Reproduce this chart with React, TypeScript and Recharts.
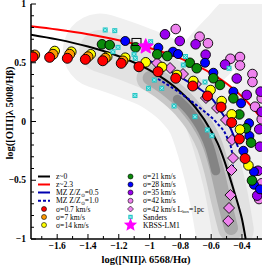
import React from "react";
import { ComposedChart, Line, Scatter, XAxis, YAxis } from "recharts";

type P = { x: number; y: number };
const toXY = (a: number[][]): P[] => a.map(([x, y]) => ({ x, y }));

// model curves
const curveZ0 = toXY([[-1.77, 0.739], [-1.6, 0.699], [-1.4, 0.638], [-1.2, 0.555], [-1.0, 0.437], [-0.9, 0.356], [-0.8, 0.253], [-0.7, 0.116], [-0.6, -0.08], [-0.55, -0.21], [-0.5, -0.39], [-0.45, -0.6], [-0.42, -0.73], [-0.4, -0.83], [-0.376, -1.0]]);
const curveZ23 = toXY([[-1.77, 0.811], [-1.6, 0.783], [-1.4, 0.743], [-1.2, 0.692], [-1.0, 0.626], [-0.8, 0.537], [-0.6, 0.41], [-0.5, 0.323], [-0.4, 0.212], [-0.3, 0.067], [-0.27, 0.013]]);
const mzHalf = toXY([[-1.03, 0.53], [-0.9, 0.455], [-0.802, 0.379], [-0.69, 0.29], [-0.588, 0.183], [-0.543, 0.098], [-0.48, -0.04], [-0.426, -0.217]]);
const mzSolar = toXY([[-0.945, 0.362], [-0.802, 0.243], [-0.673, 0.115], [-0.569, -0.004], [-0.498, -0.132], [-0.465, -0.26], [-0.458, -0.404]]);

// SDSS cloud (ridges of the gray density)
const cloudWide = toXY([[-1.32, 0.6], [-1.1, 0.5], [-0.9, 0.38], [-0.75, 0.22], [-0.64, 0.02], [-0.56, -0.3], [-0.5, -0.62], [-0.46, -0.92]]);
const cloudAgn = toXY([[-0.62, 0.55], [-0.5, 0.72], [-0.38, 0.86], [-0.3, 0.82]]);
const cloudRight = toXY([[-0.34, 0.88], [-0.31, 0.5], [-0.3, 0.0], [-0.31, -0.5], [-0.33, -0.95]]);
const cloudRidge = toXY([[-1.0, 0.37], [-0.9, 0.285], [-0.77, 0.132], [-0.673, -0.038], [-0.608, -0.209], [-0.562, -0.413], [-0.517, -0.668], [-0.471, -0.906]]);
const cloudCore = toXY([[-0.82, 0.19], [-0.73, 0.07], [-0.66, -0.07], [-0.61, -0.22], [-0.57, -0.42]]);

// photoionisation models, by velocity dispersion
const sig07 = toXY([[-1.757, 0.549], [-1.649, 0.546], [-1.534, 0.538], [-1.417, 0.529], [-1.304, 0.517], [-1.184, 0.495], [-1.069, 0.466], [-0.945, 0.424], [-0.83, 0.368], [-0.72, 0.302], [-0.624, 0.217], [-0.536, 0.123], [-0.467, -0.009], [-0.417, -0.149], [-0.38, -0.315]]);
const sig7 = toXY([[-1.746, 0.566], [-1.627, 0.572], [-1.519, 0.572], [-1.4, 0.551], [-1.288, 0.538], [-1.173, 0.515]]);
const sig14 = toXY([[-1.616, 0.6], [-1.508, 0.594], [-1.382, 0.572], [-1.275, 0.551], [-1.158, 0.543], [-1.025, 0.504], [-0.919, 0.464], [-0.822, 0.396], [-0.716, 0.345], [-0.604, 0.268], [-0.532, 0.174], [-0.467, 0.061], [-0.413, -0.068], [-0.358, -0.374]]);
const sig21 = toXY([[-1.309, 0.657], [-1.259, 0.651], [-1.091, 0.631], [-0.95, 0.572], [-0.885, 0.557], [-0.739, 0.5], [-0.694, 0.453], [-0.586, 0.368], [-0.543, 0.311], [-0.456, 0.197], [-0.417, 0.06], [-0.374, -0.058], [-0.341, -0.18], [-0.335, -0.502]]);
const sig28 = toXY([[-1.158, 0.685], [-0.943, 0.628], [-0.848, 0.594], [-0.815, 0.574], [-0.64, 0.5], [-0.586, 0.415], [-0.456, 0.254], [-0.406, 0.155], [-0.354, -0.015], [-0.352, -0.123], [-0.391, -0.249], [-0.322, -0.427], [-0.322, -0.538], [-0.283, -0.577]]);
const sig35 = toXY([[-0.9, 0.742], [-0.804, 0.685], [-0.701, 0.657], [-0.636, 0.569], [-0.51, 0.485], [-0.434, 0.366], [-0.369, 0.226], [-0.279, 0.254], [-0.272, 0.083], [-0.288, -0.066], [-0.283, -0.214], [-0.296, -0.419], [-0.301, -0.631]]);
const sig42 = toXY([[-0.83, 0.787], [-0.675, 0.722], [-0.621, 0.666], [-0.475, 0.534], [-0.413, 0.549], [-0.413, 0.477], [-0.332, 0.404], [-0.332, 0.336], [-0.272, 0.197], [-0.315, 0.126], [-0.272, 0.019], [-0.272, -0.526], [-0.289, -0.66]]);
const sig42box = toXY([[-0.952, 0.498], [-0.867, 0.455], [-0.783, 0.404], [-0.699, 0.319], [-0.634, 0.2], [-0.562, 0.115], [-0.504, 0.013], [-0.465, -0.157], [-0.458, -0.311], [-0.468, -0.413], [-0.475, -0.626], [-0.484, -0.736], [-0.489, -0.847]]);

// observations
const sanders = toXY([[-1.288, 0.779], [-1.226, 0.773], [-1.205, 0.631], [-1.238, 0.594], [-1.101, 0.572], [-1.093, 0.538], [-0.993, 0.679], [-0.767, 0.553], [-0.781, 0.481], [-0.484, 0.453], [-0.64, 0.336], [-1.095, 0.221], [-1.007, 0.283], [-0.921, 0.283], [-0.969, 0.353], [-0.841, 0.132], [-0.705, 0.041], [-0.625, -0.072], [-0.595, -0.121]]);
const kbss = toXY([[-1.025, 0.637]]);
const kbssBox = toXY([[-1.085, 0.677]]);

const xTicks = [-1.7, -1.6, -1.5, -1.4, -1.3, -1.2, -1.1, -1.0, -0.9, -0.8, -0.7, -0.6, -0.5, -0.4, -0.3];
const yTicks = [-1, -0.9, -0.8, -0.7, -0.6, -0.5, -0.4, -0.3, -0.2, -0.1, 0, 0.1, 0.2, 0.3, 0.4, 0.5, 0.6, 0.7, 0.8, 0.9, 1];

const serif = "'Liberation Serif', 'Times New Roman', serif";
const tickFont = { fontFamily: serif, fontWeight: 700, fontSize: 9.5, fill: "#000" } as const;
const fmt = (v: number) => (v < -1e-9 ? "\u2212" : "") + String(Math.round(Math.abs(v) * 10) / 10);
const majX = (v: number) => Math.abs(v * 5 - Math.round(v * 5)) < 1e-6;
const majY = (v: number) => Math.abs(v * 2 - Math.round(v * 2)) < 1e-6;

const BottomTick = (p: any) => {
  const v = p.payload.value;
  const m = majX(v);
  return (
    <g>
      <line x1={p.x} x2={p.x} y1={p.y} y2={p.y - (m ? 5 : 3)} stroke="#000" />
      {m && <text x={p.x} y={p.y + 10} textAnchor="middle" style={tickFont}>{fmt(v)}</text>}
    </g>
  );
};
const TopTick = (p: any) => {
  const m = majX(p.payload.value);
  return <line x1={p.x} x2={p.x} y1={p.y} y2={p.y + (m ? 5 : 3)} stroke="#000" />;
};
const LeftTick = (p: any) => {
  const v = p.payload.value;
  const m = majY(v);
  return (
    <g>
      <line x1={p.x} x2={p.x + (m ? 5 : 3)} y1={p.y} y2={p.y} stroke="#000" />
      {m && <text x={p.x - 5} y={p.y + 3} textAnchor="end" style={tickFont}>{fmt(v)}</text>}
    </g>
  );
};
const RightTick = (p: any) => {
  const m = majY(p.payload.value);
  return <line x1={p.x} x2={p.x - (m ? 5 : 3)} y1={p.y} y2={p.y} stroke="#000" />;
};

const dot = (fill: string, r: number) => (p: any) =>
  <circle cx={p.cx} cy={p.cy} r={r} fill={fill} stroke="#000" strokeWidth={0.9} />;
const diamond = (fill: string, r: number) => (p: any) =>
  <polygon points={`${p.cx},${p.cy - r} ${p.cx + r},${p.cy} ${p.cx},${p.cy + r} ${p.cx - r},${p.cy}`} fill={fill} stroke="#000" strokeWidth={0.9} />;
const sandersMark = (cx: number, cy: number, s: number) => (
  <g>
    <rect x={cx - s} y={cy - s} width={2 * s} height={2 * s} fill="#22c4c4" />
    <path d={`M${cx - s + 1},${cy - s + 1}L${cx + s - 1},${cy + s - 1}M${cx - s + 1},${cy + s - 1}L${cx + s - 1},${cy - s + 1}`} stroke="#bff" strokeWidth={0.8} />
  </g>
);
const starPath = (cx: number, cy: number, R: number) => {
  const pts: string[] = [];
  for (let i = 0; i < 10; i++) {
    const r = i % 2 === 0 ? R : R * 0.45;
    const a = -Math.PI / 2 + (i * Math.PI) / 5;
    pts.push(`${cx + r * Math.cos(a)},${cy + r * Math.sin(a)}`);
  }
  return pts.join(" ");
};

const C = { red: "#ff0000", orange: "#ff9a00", yellow: "#ffff00", green: "#0a8a0a", blue: "#0000ff", purple: "#9a00ee", violet: "#ee82ee", dblue: "#0000b0" };

const axisLine = { stroke: "#000", strokeWidth: 1.5 };
const common = { type: "number" as const, allowDataOverflow: true, interval: 0 as const, tickSize: 0, tickMargin: 0, axisLine };

const band = (data: P[], color: string, w: number, kind: "monotone" | "linear" = "monotone", op = 1) => (
  <Line data={data} dataKey="y" type={kind} stroke={color} strokeOpacity={op} strokeWidth={w} strokeLinecap="round" strokeLinejoin="round" dot={false} activeDot={false} isAnimationActive={false} />
);
const curve = (data: P[], color: string, dash?: string) => (
  <Line data={data} dataKey="y" type="monotone" stroke={color} strokeWidth={2} strokeDasharray={dash} dot={false} activeDot={false} isAnimationActive={false} />
);

export default function App() {
  const lx = 38, tx = 56, rx = 130.5, rtx = 143;
  const rows = [176.5, 184.5, 192.5, 200.8, 209, 217, 225];
  const lf = { fontFamily: serif, fontSize: 7.6, fill: "#000" } as const;
  return (
    <div style={{ position: "absolute", left: 0, top: 0, width: 269, height: 269, background: "#fff" }}>
      <ComposedChart width={269} height={269} margin={{ top: 4, right: 7, bottom: 0, left: 0 }}>
        <XAxis {...common} dataKey="x" domain={[-1.77, -0.27]} ticks={xTicks} tick={BottomTick} height={30} />
        <XAxis {...common} xAxisId="t" orientation="top" dataKey="x" domain={[-1.77, -0.27]} ticks={xTicks} tick={TopTick} height={0} />
        <YAxis {...common} dataKey="y" domain={[-1, 1]} ticks={yTicks} tick={LeftTick} width={31} />
        <YAxis {...common} yAxisId="r" orientation="right" dataKey="y" domain={[-1, 1]} ticks={yTicks} tick={RightTick} width={0} />
        {band(cloudWide, "#f0f0f0", 75)}
        {band(cloudAgn, "#f0f0f0", 55)}
        {band(cloudRight, "#f0f0f0", 42, "linear")}
        {band(cloudWide, "#e2e2e2", 42)}
        {band(cloudRidge, "#c8c8c8", 26)}
        {band(cloudRidge, "#aaaaaa", 14)}
        {band(cloudCore, "#7a7a7a", 9, "monotone", 0.8)}
        <Scatter data={sig42box} dataKey="y" shape={diamond(C.violet, 5.5)} isAnimationActive={false} />
        <Scatter data={sig42} dataKey="y" shape={dot(C.violet, 4.8)} isAnimationActive={false} />
        <Scatter data={sig35} dataKey="y" shape={dot(C.purple, 4.8)} isAnimationActive={false} />
        <Scatter data={sig28} dataKey="y" shape={dot(C.blue, 4.5)} isAnimationActive={false} />
        <Scatter data={sig21} dataKey="y" shape={dot(C.green, 4.8)} isAnimationActive={false} />
        <Scatter data={sig14} dataKey="y" shape={dot(C.yellow, 4.8)} isAnimationActive={false} />
        <Scatter data={sig7} dataKey="y" shape={dot(C.orange, 5)} isAnimationActive={false} />
        <Scatter data={sig07} dataKey="y" shape={dot(C.red, 5)} isAnimationActive={false} />
        <Scatter data={sanders} dataKey="y" shape={(p: any) => sandersMark(p.cx, p.cy, 2.5)} isAnimationActive={false} />
        <Scatter data={kbssBox} dataKey="y" shape={(p: any) => <rect x={p.cx - 4.5} y={p.cy - 3.5} width={9} height={7} fill="none" stroke="#000" strokeWidth={1} />} isAnimationActive={false} />
        <Scatter data={kbss} dataKey="y" shape={(p: any) => <polygon points={starPath(p.cx, p.cy, 8)} fill="#ff00ff" stroke="#ff00ff" />} isAnimationActive={false} />
        {curve(curveZ0, "#000")}
        {curve(curveZ23, "#ff0000")}
        {curve(mzHalf, C.dblue)}
        {curve(mzSolar, C.dblue, "3 2")}
      </ComposedChart>
      <svg width={269} height={269} style={{ position: "absolute", left: 0, top: 0, pointerEvents: "none" }}>
        <text x={146} y={263} textAnchor="middle" style={{ fontFamily: serif, fontWeight: 700, fontSize: 10.5 }}>log([NII]λ 6568/Hα)</text>
        <text transform="translate(13,113) rotate(-90)" textAnchor="middle" style={{ fontFamily: serif, fontWeight: 700, fontSize: 10.5 }}>log([OIII]λ 5008/Hβ)</text>
        <line x1={lx} x2={lx + 12} y1={rows[0]} y2={rows[0]} stroke="#000" strokeWidth={2} />
        <text x={tx} y={rows[0] + 2.5} style={lf}>z~0</text>
        <line x1={lx} x2={lx + 12} y1={rows[1]} y2={rows[1]} stroke="#ff0000" strokeWidth={2} />
        <text x={tx} y={rows[1] + 2.5} style={lf}>z~2.3</text>
        <line x1={lx} x2={lx + 12} y1={rows[2]} y2={rows[2]} stroke={C.dblue} strokeWidth={2} />
        <text x={tx} y={rows[2] + 2.5} style={lf}>MZ Z/Z<tspan fontSize={4.5} dy={1.5}>⊙</tspan><tspan dy={-1.5}>=0.5</tspan></text>
        <line x1={lx} x2={lx + 12} y1={rows[3]} y2={rows[3]} stroke={C.dblue} strokeWidth={2} strokeDasharray="3 2" />
        <text x={tx} y={rows[3] + 2.5} style={lf}>MZ Z/Z<tspan fontSize={4.5} dy={1.5}>⊙</tspan><tspan dy={-1.5}>=1.0</tspan></text>
        <circle cx={lx + 6} cy={rows[4]} r={2.5} fill={C.red} stroke="#000" strokeWidth={0.6} />
        <text x={tx} y={rows[4] + 2.5} style={lf}>σ=0.7 km/s</text>
        <circle cx={lx + 6} cy={rows[5]} r={2.5} fill={C.orange} stroke="#000" strokeWidth={0.6} />
        <text x={tx} y={rows[5] + 2.5} style={lf}>σ=7 km/s</text>
        <circle cx={lx + 6} cy={rows[6]} r={2.5} fill={C.yellow} stroke="#000" strokeWidth={0.6} />
        <text x={tx} y={rows[6] + 2.5} style={lf}>σ=14 km/s</text>

        <circle cx={rx} cy={rows[0]} r={2.5} fill={C.green} stroke="#000" strokeWidth={0.6} />
        <text x={rtx} y={rows[0] + 2.5} style={lf}>σ=21 km/s</text>
        <circle cx={rx} cy={rows[1]} r={2.5} fill={C.blue} stroke="#000" strokeWidth={0.6} />
        <text x={rtx} y={rows[1] + 2.5} style={lf}>σ=28 km/s</text>
        <circle cx={rx} cy={rows[2]} r={2.5} fill={C.purple} stroke="#000" strokeWidth={0.6} />
        <text x={rtx} y={rows[2] + 2.5} style={lf}>σ=35 km/s</text>
        <circle cx={rx} cy={rows[3]} r={2.5} fill={C.violet} stroke="#000" strokeWidth={0.6} />
        <text x={rtx} y={rows[3] + 2.5} style={lf}>σ=42 km/s</text>
        <polygon points={`${rx},${rows[4] - 3} ${rx + 3},${rows[4]} ${rx},${rows[4] + 3} ${rx - 3},${rows[4]}`} fill={C.violet} stroke="#000" strokeWidth={0.6} />
        <text x={rtx} y={rows[4] + 2.5} style={lf}>σ=42 km/s L<tspan fontSize={4.5} dy={1.5}>box</tspan><tspan dy={-1.5}>=1pc</tspan></text>
        {sandersMark(rx, rows[5], 2.2)}
        <text x={rtx} y={rows[5] + 2.5} style={lf}>Sanders</text>
        <polygon points={starPath(rx, rows[6], 7)} fill="#ff00ff" />
        <text x={rtx} y={rows[6] + 2.5} style={lf}>KBSS-LM1</text>
      </svg>
    </div>
  );
}
